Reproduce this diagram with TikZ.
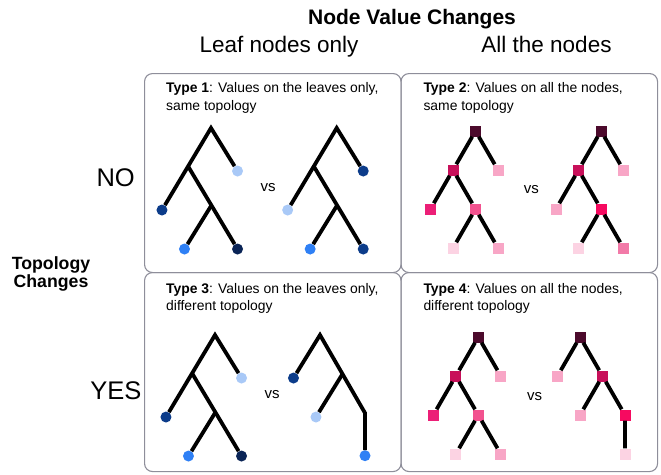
\documentclass[tikz,border=0pt]{standalone}
\usepackage{fontspec}
\setmainfont{Liberation Sans}
\usetikzlibrary{positioning}
\definecolor{mframe}{HTML}{8E8E9A}
\definecolor{mnavy}{HTML}{0A2456}
\definecolor{mdark}{HTML}{0C3C8A}
\definecolor{mmid}{HTML}{2F80F5}
\definecolor{mlight}{HTML}{A9C9F7}
\definecolor{mroot}{HTML}{4C0A2C}
\definecolor{mcrim}{HTML}{C8105A}
\definecolor{mhot}{HTML}{EC1F77}
\definecolor{mrose}{HTML}{F2528F}
\definecolor{mblush}{HTML}{F27AA8}
\definecolor{mpink}{HTML}{F8A6C6}
\definecolor{mpale}{HTML}{FCD3E3}
\definecolor{mbright}{HTML}{F60A60}
\tikzstyle{panel} = [rectangle, draw=mframe, line width=1.1pt, rounded corners=8pt, minimum width=256.5pt, minimum height=199pt, anchor=north west]
\tikzstyle{caption} = [anchor=north west, inner sep=0pt, align=left, font=\fontsize{13.9}{17.3}\selectfont]
\tikzstyle{head} = [anchor=base, inner sep=0pt, font=\fontsize{22.5}{27}\selectfont]
\tikzstyle{answer} = [anchor=base east, inner sep=0pt, font=\fontsize{25.5}{30}\selectfont]
\tikzstyle{vs} = [anchor=base, inner sep=0pt, font=\fontsize{15}{18}\selectfont]
\tikzstyle{leaf} = [circle, inner sep=0pt, minimum size=11pt]
\tikzstyle{vertex} = [rectangle, inner sep=0pt, minimum size=11pt]
\tikzstyle{branch} = [line width=3.8pt]

\begin{document}
\begin{tikzpicture}[x=1pt, y=-1pt, node distance=39pt and 22.5pt, on grid]
\useasboundingbox (0,0) rectangle (661,474);
% headings
\node (title) [anchor=base, inner sep=0pt, font=\fontsize{21}{25}\selectfont\bfseries] at (412,24) {Node Value Changes};
\node (leafonly) [head] at (279,52) {Leaf nodes only};
\node (allnodes) [head] at (546.5,52) {All the nodes};
\node (topo) [anchor=north, inner sep=0pt, align=center, font=\fontsize{17.7}{18.7}\selectfont\bfseries] at (51,256) {Topology\\Changes};
\node (no) [answer] at (135,186) {NO};
\node (yes) [answer] at (141.7,399) {YES};
% panels
\node (box1) [panel] at (144,73) {};
\node (box2) [panel] at (400.5,73) {};
\node (box3) [panel] at (144,272) {};
\node (box4) [panel] at (400.5,272) {};
\node (cap1) [caption] at (166,82.5) {\textbf{Type 1}: Values on the leaves only,\\same topology};
\node (cap2) [caption] at (423.3,82.5) {\textbf{Type 2}: Values on all the nodes,\\same topology};
\node (cap3) [caption] at (166,283) {\textbf{Type 3}: Values on the leaves only,\\different topology};
\node (cap4) [caption] at (423.3,283) {\textbf{Type 4}: Values on all the nodes,\\different topology};
\node (vs1) [vs] at (268.2,191) {vs};
\node (vs2) [vs] at (531.3,193.3) {vs};
\node (vs3) [vs] at (272,398.3) {vs};
\node (vs4) [vs] at (534.7,400) {vs};

% type 1
\coordinate (a1) at (211,128);
\coordinate [below left=of a1] (a2);
\node (a3) [leaf, fill=mlight, below right=of a1] {};
\node (a4) [leaf, fill=mdark, below left=of a2] {};
\coordinate [below right=of a2] (a5);
\node (a6) [leaf, fill=mmid, below left=of a5] {};
\node (a7) [leaf, fill=mnavy, below right=of a5] {};
\draw [branch] (a4) -- (a1) -- (a3);
\draw [branch] (a2) -- (a7);
\draw [branch] (a5) -- (a6);

\coordinate (b1) at (336.7,128);
\coordinate [below left=of b1] (b2);
\node (b3) [leaf, fill=mdark, below right=of b1] {};
\node (b4) [leaf, fill=mlight, below left=of b2] {};
\coordinate [below right=of b2] (b5);
\node (b6) [leaf, fill=mmid, below left=of b5] {};
\node (b7) [leaf, fill=mdark, below right=of b5] {};
\draw [branch] (b4) -- (b1) -- (b3);
\draw [branch] (b2) -- (b7);
\draw [branch] (b5) -- (b6);

% type 2
\node (c1) [vertex, fill=mroot] at (475.5,131) {};
\node (c2) [vertex, fill=mcrim, below left=of c1] {};
\node (c3) [vertex, fill=mpink, below right=of c1] {};
\node (c4) [vertex, fill=mhot, below left=of c2] {};
\node (c5) [vertex, fill=mrose, below right=of c2] {};
\node (c6) [vertex, fill=mpale, below left=of c5] {};
\node (c7) [vertex, fill=mpink, below right=of c5] {};
\draw [branch] (c1) -- (c2) (c1) -- (c3) (c2) -- (c4) (c2) -- (c5) (c5) -- (c6) (c5) -- (c7);

\node (d1) [vertex, fill=mroot] at (601,131) {};
\node (d2) [vertex, fill=mcrim, below left=of d1] {};
\node (d3) [vertex, fill=mpink, below right=of d1] {};
\node (d4) [vertex, fill=mpink, below left=of d2] {};
\node (d5) [vertex, fill=mbright, below right=of d2] {};
\node (d6) [vertex, fill=mpale, below left=of d5] {};
\node (d7) [vertex, fill=mblush, below right=of d5] {};
\draw [branch] (d1) -- (d2) (d1) -- (d3) (d2) -- (d4) (d2) -- (d5) (d5) -- (d6) (d5) -- (d7);

% type 3
\coordinate (e1) at (215,335);
\coordinate [below left=of e1] (e2);
\node (e3) [leaf, fill=mlight, below right=of e1] {};
\node (e4) [leaf, fill=mdark, below left=of e2] {};
\coordinate [below right=of e2] (e5);
\node (e6) [leaf, fill=mmid, below left=of e5] {};
\node (e7) [leaf, fill=mnavy, below right=of e5] {};
\draw [branch] (e4) -- (e1) -- (e3);
\draw [branch] (e2) -- (e7);
\draw [branch] (e5) -- (e6);

\coordinate (f1) at (320,335);
\node (f2) [leaf, fill=mdark, below left=of f1] {};
\coordinate [below right=of f1] (f3);
\node (f4) [leaf, fill=mlight, below left=of f3] {};
\coordinate [below right=of f3] (f5);
\node (f6) [leaf, fill=mmid, below=37pt of f5] {};
\draw [branch] (f2) -- (f1) -- (f5) -- (f6);
\draw [branch] (f3) -- (f4);

% type 4
\node (g1) [vertex, fill=mroot] at (478.3,337) {};
\node (g2) [vertex, fill=mcrim, below left=of g1] {};
\node (g3) [vertex, fill=mpink, below right=of g1] {};
\node (g4) [vertex, fill=mhot, below left=of g2] {};
\node (g5) [vertex, fill=mrose, below right=of g2] {};
\node (g6) [vertex, fill=mpale, below left=of g5] {};
\node (g7) [vertex, fill=mpink, below right=of g5] {};
\draw [branch] (g1) -- (g2) (g1) -- (g3) (g2) -- (g4) (g2) -- (g5) (g5) -- (g6) (g5) -- (g7);

\node (h1) [vertex, fill=mroot] at (580,337) {};
\node (h2) [vertex, fill=mpink, below left=of h1] {};
\node (h3) [vertex, fill=mcrim, below right=of h1] {};
\node (h4) [vertex, fill=mpink, below left=of h3] {};
\node (h5) [vertex, fill=mbright, below right=of h3] {};
\node (h6) [vertex, fill=mpale, below=of h5] {};
\draw [branch] (h1) -- (h2) (h1) -- (h3) (h3) -- (h4) (h3) -- (h5) (h5) -- (h6);
\end{tikzpicture}
\end{document}
